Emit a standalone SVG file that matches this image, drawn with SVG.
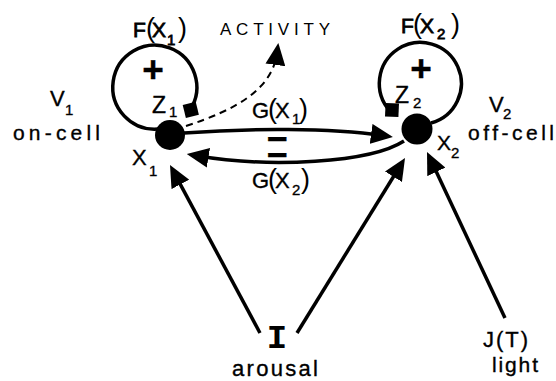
<svg xmlns="http://www.w3.org/2000/svg" width="556" height="381" viewBox="0 0 556 381">
<defs>
<style>
.t{font-family:"Liberation Sans",Arial,sans-serif;fill:#000;stroke:#000;stroke-width:0.35}
.m{font-family:"Liberation Sans",Arial,sans-serif;fill:#000;stroke:#000;stroke-width:0.8}
.thin{font-family:"Liberation Sans",Arial,sans-serif;fill:#000}
.ln{fill:none;stroke:#000;stroke-width:3.5}
.dash{fill:none;stroke:#000;stroke-width:2;stroke-dasharray:7 5}
.node{fill:#000}
</style>
<marker id="ah" markerUnits="userSpaceOnUse" markerWidth="22" markerHeight="20" viewBox="0 0 22 20" refX="12" refY="10" orient="auto">
<path d="M0,0 L22,10 L0,20 z" fill="#000"/>
</marker>
</defs>
<rect width="556" height="381" fill="#fff"/>

<g id="connectors">
<path class="ln" d="M158,129 A42,42 0 1 1 190,110"/>
<polygon points="185.9,118 198.9,114.8 195.7,101.8 182.7,105" fill="#000"/>
<path class="ln" d="M431,123 A41,41 0 1 0 390,111"/>
<polygon points="398.4,117 399,103.6 385.6,103 385,116.4" fill="#000"/>
<path class="ln" d="M184,133 C250,128 330,128 383,135.5" marker-end="url(#ah)"/>
<path class="ln" d="M404,141 C370,163 270,168 196.6,155.75" marker-end="url(#ah)"/>
<path class="dash" d="M186,126 C235,110 272,90 277,53" marker-end="url(#ah)"/>
<path class="ln" d="M260,333 L174.7,173.8" marker-end="url(#ah)"/>
<path class="ln" d="M297,333 L399.75,166.5" marker-end="url(#ah)"/>
<path class="ln" d="M505,318 L431.25,161.05" marker-end="url(#ah)"/>
<text class="t" x="277" y="151" font-size="36" font-weight="bold" text-anchor="middle">−</text>
<text class="t" x="277" y="167" font-size="36" font-weight="bold" text-anchor="middle">−</text>
<text class="t" x="252" y="118" font-size="22">G<tspan class="thin" x="268" font-size="27" stroke="none">(</tspan><tspan x="275" font-size="22">X</tspan><tspan x="292" dy="6" font-size="15">1</tspan><tspan class="thin" x="299" dy="-6" font-size="27" stroke="none">)</tspan></text>
<text class="t" x="252" y="188" font-size="22">G<tspan class="thin" x="268" font-size="27" stroke="none">(</tspan><tspan x="275" font-size="22">X</tspan><tspan x="292" dy="7" font-size="15">2</tspan><tspan class="thin" x="301" dy="-7" font-size="27" stroke="none">)</tspan></text>
</g>

<g id="node-x1">
<circle class="node" cx="170" cy="135" r="15"/>
<text class="t" x="132" y="165" font-size="22">X<tspan x="149" dy="11" font-size="15">1</tspan></text>
<text class="t" x="152" y="113" font-size="23">Z<tspan x="169" dy="4" font-size="15">1</tspan></text>
<text class="m" x="133" y="37" font-size="21">F<tspan class="thin" x="146" font-size="27" stroke="none">(</tspan><tspan x="152">X</tspan><tspan x="167" dy="8" font-size="15">1</tspan><tspan class="thin" x="178" dy="-8" font-size="27" stroke="none">)</tspan></text>
<text class="t" x="153" y="82" font-size="37" font-weight="bold" text-anchor="middle">+</text>
<text class="t" x="50" y="106" font-size="22">V<tspan x="65" dy="9" font-size="15">1</tspan></text>
<text class="t" x="13" y="140" font-size="21" textLength="87" lengthAdjust="spacing">on-cell</text>
</g>

<g id="node-x2">
<circle class="node" cx="417" cy="129" r="15.5"/>
<text class="t" x="437" y="150" font-size="21">X<tspan x="451" dy="8" font-size="15">2</tspan></text>
<text class="t" x="395" y="103" font-size="23">Z<tspan x="413" dy="5" font-size="15">2</tspan></text>
<text class="m" x="401" y="33" font-size="21">F<tspan class="thin" x="413" font-size="27" stroke="none">(</tspan><tspan x="420">X</tspan><tspan x="437" dy="6" font-size="15">2</tspan><tspan class="thin" x="451" dy="-6" font-size="27" stroke="none">)</tspan></text>
<text class="t" x="421" y="81" font-size="37" font-weight="bold" text-anchor="middle">+</text>
<text class="t" x="489" y="112" font-size="22">V<tspan x="503" dy="7" font-size="15">2</tspan></text>
<text class="t" x="468" y="140" font-size="21" textLength="86" lengthAdjust="spacing">off-cell</text>
</g>

<g id="node-activity">
<text class="thin" x="220" y="35" font-size="17" textLength="110" lengthAdjust="spacing">ACTIVITY</text>
</g>

<g id="node-arousal">
<text x="277" y="348" font-family="Liberation Mono, monospace" font-size="34" font-weight="bold" text-anchor="middle">I</text>
<text class="t" x="232" y="376" font-size="22" textLength="86" lengthAdjust="spacing">arousal</text>
</g>

<g id="node-light">
<text class="t" x="483" y="347" font-size="22" textLength="45" lengthAdjust="spacing">J(T)</text>
<text class="t" x="492" y="372" font-size="21" textLength="46" lengthAdjust="spacing">light</text>
</g>
</svg>
